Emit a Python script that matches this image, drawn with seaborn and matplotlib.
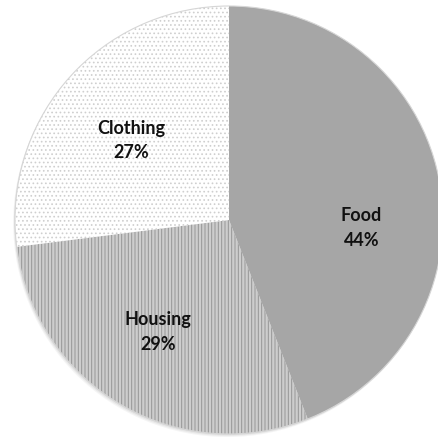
import matplotlib
matplotlib.use("Agg")
import matplotlib.pyplot as plt
from matplotlib.patches import Circle
import seaborn as sns
import numpy as np

# ---- data ----
categories = ["Food", "Housing", "Clothing"]
values = [44, 29, 27]

# ---- style ----
sns.set_theme(style="white")
plt.rcParams["font.family"] = ["Lato", "DejaVu Sans"]
plt.rcParams["hatch.linewidth"] = 0.7

face_colors = ["#a6a6a6", "#cdcdcd", "#ffffff"]
hatch_colors = ["#a6a6a6", "#969696", "#cfcfcf"]
hatches = [None, "|||||", "...."]
# label placement (radius, angle in degrees, standard orientation)
label_pos = [(0.62, -3.5), (0.62, -122.5), (0.59, 141.0)]

W = H = 438
fig = plt.figure(figsize=(W / 100, H / 100), dpi=100)
ax = fig.add_axes([0, 0, 1, 1])

cx, cy, R = 229, 220, 214  # pixel centre / radius

# soft shadow
for off, a in [(0.014, 0.08), (0.009, 0.10), (0.004, 0.14)]:
    ax.add_patch(Circle((-off * 0.6, -off), 1.0, color="#7f7f7f", alpha=a, lw=0, zorder=0))

wedges, _ = ax.pie(values, startangle=90, counterclock=False, radius=1.0,
                   center=(0, 0), frame=True,
                   wedgeprops=dict(linewidth=0))
ax.set_xlim(-cx / R, (W - cx) / R)
ax.set_ylim(-(H - cy) / R, cy / R)
ax.set_aspect("equal")
ax.axis("off")

for w, fc, hc, h in zip(wedges, face_colors, hatch_colors, hatches):
    w.set_facecolor(fc)
    w.set_edgecolor(hc)
    w.set_linewidth(0)
    if h:
        w.set_hatch(h)
    w.set_zorder(2)

ax.add_patch(Circle((0, 0), 1.0, fill=False, ec="#d6d6d6", lw=0.8, zorder=3))

total = sum(values)
for cat, v, (r, ang) in zip(categories, values, label_pos):
    t = np.deg2rad(ang)
    ax.text(r * np.cos(t), r * np.sin(t), f"{cat}\n{round(100 * v / total)}%",
            ha="center", va="center", fontsize=13, fontweight="bold",
            color="#111111", linespacing=1.55, zorder=5)

fig.savefig("out.png", dpi=100)
